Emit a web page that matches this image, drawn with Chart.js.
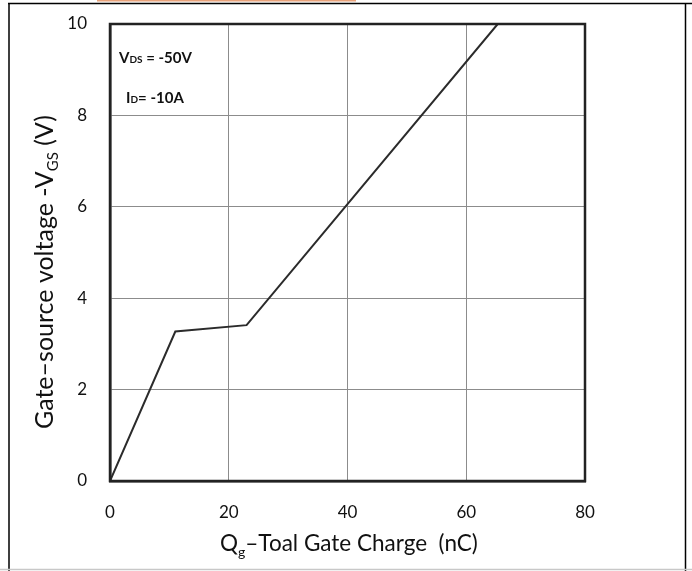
<!DOCTYPE html>
<html>
<head>
<meta charset="utf-8">
<script src="https://cdn.jsdelivr.net/npm/chart.js@4"></script>
<style>
  html, body { margin: 0; padding: 0; background: #fff; }
  #wrap { width: 692px; height: 571px; position: relative; }
</style>
</head>
<body>
<div id="wrap"><canvas id="gateChart"></canvas></div>
<script>
// gate charge curve
var chargeNC = [0, 11, 23, 65.3];
var vgsVolts = [0, 3.27, 3.41, 10];
var xTicks = [0, 20, 40, 60, 80];
var yTicks = [0, 2, 4, 6, 8, 10];

var FONT = "Lato, 'Open Sans', sans-serif";

// frame, axis titles and the test-condition notes
var extras = {
    id: 'extras',
    afterDraw: function (chart) {
        var c = chart.ctx;
        c.save();
        // page frame
        c.strokeStyle = '#000';
        c.lineWidth = 1.5;
        c.beginPath();
        c.moveTo(8, 3.5); c.lineTo(692, 3.5);
        c.moveTo(9, 3); c.lineTo(9, 571);
        c.moveTo(685.5, 3); c.lineTo(685.5, 571);
        c.stroke();
        c.strokeStyle = '#c8c8c8';
        c.beginPath(); c.moveTo(0, 569.5); c.lineTo(692, 569.5); c.stroke();
        c.strokeStyle = '#e8a27a';
        c.lineWidth = 2;
        c.beginPath(); c.moveTo(97, 0.5); c.lineTo(356, 0.5); c.stroke();

        c.fillStyle = '#111';
        c.textBaseline = 'alphabetic';

        // x title
        c.font = '22.5px ' + FONT;
        c.textAlign = 'left';
        var x = 220, y = 551;
        c.fillText('Q', x, y);
        x += c.measureText('Q').width;
        c.font = '14px ' + FONT;
        c.fillText('g', x, y + 6);
        x += c.measureText('g').width;
        c.font = '22.5px ' + FONT;
        c.fillText('\u2013Toal Gate Charge  (nC)', x, y);

        // y title, rotated
        c.save();
        c.translate(53, 429);
        c.rotate(-Math.PI / 2);
        c.font = '25px ' + FONT;
        var t1 = 'Gate\u2013source voltage -V';
        c.fillText(t1, 0, 0);
        var w = c.measureText(t1).width;
        c.font = '15px ' + FONT;
        c.fillText('GS', w, 5);
        w += c.measureText('GS').width;
        c.font = '25px ' + FONT;
        c.fillText(' (V)', w, 0);
        c.restore();

        // notes
        c.font = 'bold 15px ' + FONT;
        c.fillText('V', 119, 63);
        var vw = c.measureText('V').width;
        c.font = 'bold 10px ' + FONT;
        c.fillText('DS', 119 + vw, 63);
        var dw = c.measureText('DS').width;
        c.font = 'bold 15px ' + FONT;
        c.fillText(' = -50V', 119 + vw + dw, 63);

        c.fillText('I', 126, 103);
        var iw = c.measureText('I').width;
        c.font = 'bold 10px ' + FONT;
        c.fillText('D', 126 + iw, 103);
        var dw2 = c.measureText('D').width;
        c.font = 'bold 15px ' + FONT;
        c.fillText('= -10A', 126 + iw + dw2, 103);
        c.restore();
    }
};

new Chart(document.getElementById('gateChart'), {
    type: 'line',
    data: {
        datasets: [{
            data: chargeNC.map(function (q, i) { return { x: q, y: vgsVolts[i] }; }),
            borderColor: '#2b2b2b',
            borderWidth: 2,
            pointRadius: 0,
            tension: 0,
            fill: false
        }]
    },
    options: {
        responsive: true,
        maintainAspectRatio: false,
        animation: false,
        layout: { padding: { top: 24, right: 107, left: 0, bottom: 0 } },
        plugins: {
            legend: { display: false },
            tooltip: { enabled: false }
        },
        scales: {
            x: {
                type: 'linear',
                min: 0, max: 80,
                afterBuildTicks: function (s) { s.ticks = xTicks.map(function (v) { return { value: v }; }); },
                afterFit: function (s) { s.height = 90; s.paddingLeft = 0; s.paddingRight = 0; },
                grid: { color: '#8c8c8c', lineWidth: 1, drawTicks: false },
                border: { color: '#222', width: 2.5 },
                ticks: { padding: 21, color: '#111', font: { family: FONT, size: 17 } }
            },
            y: {
                min: 0, max: 10,
                afterBuildTicks: function (s) { s.ticks = yTicks.map(function (v) { return { value: v }; }); },
                afterFit: function (s) { s.width = 110; s.paddingTop = 0; s.paddingBottom = 0; },
                grid: { color: '#8c8c8c', lineWidth: 1, drawTicks: false },
                border: { color: '#222', width: 2.5 },
                ticks: { padding: 23, color: '#111', font: { family: FONT, size: 17 } }
            }
        }
    },
    plugins: [extras, {
        id: 'plotFrame',
        afterDatasetsDraw: function (chart) {
            var a = chart.chartArea, c = chart.ctx;
            c.save();
            c.strokeStyle = '#222';
            c.lineWidth = 2.5;
            c.strokeRect(a.left, a.top, a.right - a.left, a.bottom - a.top);
            c.restore();
        }
    }]
});
</script>
</body>
</html>
